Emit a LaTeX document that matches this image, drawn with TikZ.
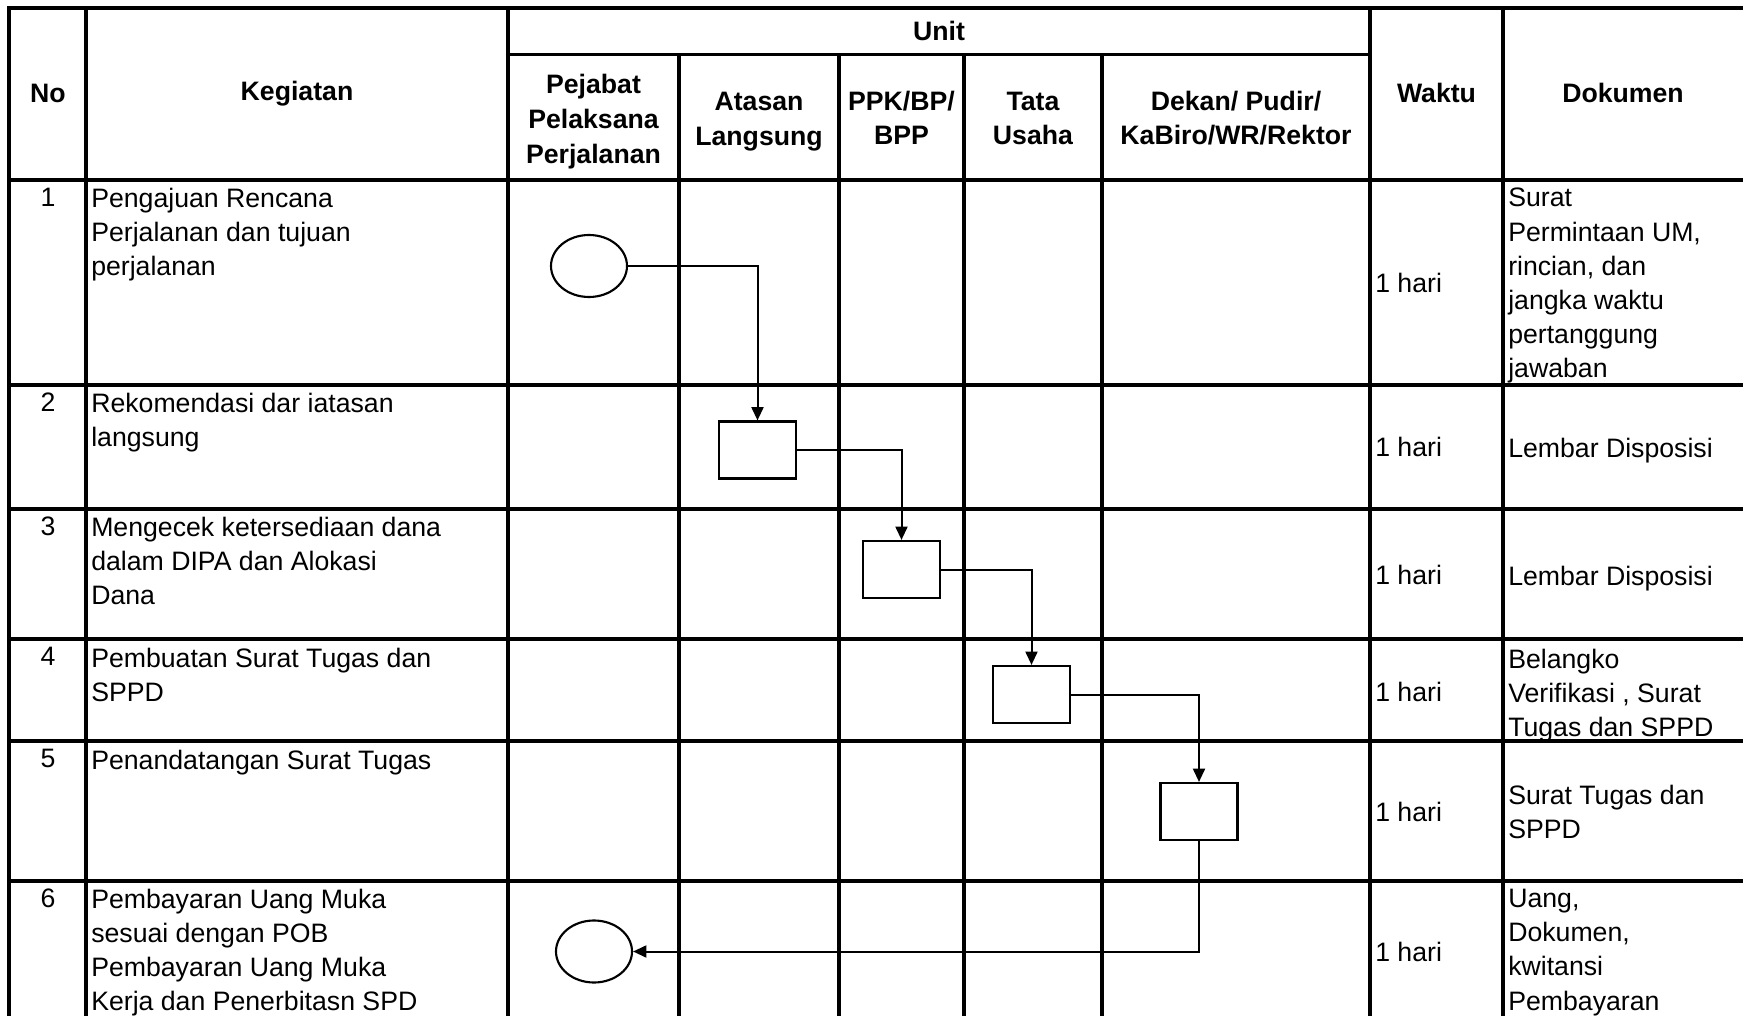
\documentclass[tikz,border=0pt]{standalone}
\usepackage{fontspec}
\setmainfont{Liberation Sans}
\usetikzlibrary{arrows.meta,shapes.geometric}
\begin{document}
\begin{tikzpicture}[x=0.75pt,y=-0.75pt,
  grid/.style={line width=2.4pt,line cap=rect},
  body/.style={font=\fontsize{20}{25.6}\selectfont,inner sep=0pt,align=left},
  head/.style={font=\bfseries\fontsize{20}{26}\selectfont,inner sep=0pt,align=center},
  num/.style={font=\fontsize{20}{25.6}\selectfont,inner sep=0pt,anchor=north},
  term/.style={draw,ellipse,line width=1.6pt,minimum width=57pt,minimum height=46.5pt,inner sep=0pt},
  proc/.style={draw,rectangle,line width=1.6pt,minimum width=57.75pt,minimum height=42.75pt,inner sep=0pt},
  flow/.style={line width=1.5pt,-{Triangle[length=10pt,width=9pt]}}]
\useasboundingbox (0,0) rectangle (1743,1016);
\clip (0,0) rectangle (1743,1016);
\fill[white] (0,0) rectangle (1743,1016);
% table grid
\draw[grid] (9,8) -- (1760,8);
\draw[grid] (508,54.5) -- (1370,54.5);
\foreach \yy in {180,385,509,639,741,881} \draw[grid] (9,\yy) -- (1760,\yy);
\foreach \xx in {9,86,508,1370,1503} \draw[grid] (\xx,8) -- (\xx,1030);
\foreach \xx in {679,839,964,1102} \draw[grid] (\xx,54.5) -- (\xx,1030);
% header
\node[head] (hno) at (48,93) {No};
\node[head] (hkeg) at (297,94) {Kegiatan};
\node[head] (hunit) at (939,31) {Unit};
\node[head] (hpej) at (593.5,121.5) {Pejabat\\Pelaksana\\Perjalanan};
\node[head] (hata) at (759,121.5) {Atasan\\Langsung};
\node[head] (hppk) at (901.5,118) {PPK/BP/\\BPP};
\node[head] (htu) at (1033,118.5) {Tata\\Usaha};
\node[head] (hdek) at (1236,118) {Dekan/ Pudir/\\KaBiro/WR/Rektor};
\node[head] (hwak) at (1436.5,93) {Waktu};
\node[head] (hdok) at (1623,93) {Dokumen};
% row numbers
\node[num] (n1) at (48,188) {1};
\node[num] (n2) at (48,393) {2};
\node[num] (n3) at (48,517) {3};
\node[num] (n4) at (48,647) {4};
\node[num] (n5) at (48,749) {5};
\node[num] (n6) at (48,889) {6};
% kegiatan
\node[body,anchor=north west] (k1) at (91,188) {Pengajuan Rencana\\Perjalanan dan tujuan\\perjalanan};
\node[body,anchor=north west] (k2) at (91,393) {Rekomendasi dar iatasan\\langsung};
\node[body,anchor=north west] (k3) at (91,517) {Mengecek ketersediaan dana\\dalam DIPA dan Alokasi\\Dana};
\node[body,anchor=north west] (k4) at (91,648) {Pembuatan Surat Tugas dan\\SPPD};
\node[body,anchor=north west] (k5) at (91,750) {Penandatangan Surat Tugas};
\node[body,anchor=north west] (k6) at (91,889) {Pembayaran Uang Muka\\sesuai dengan POB\\Pembayaran Uang Muka\\Kerja dan Penerbitasn SPD};
% waktu
\node[body,anchor=west] (w1) at (1375,282.5) {1 hari};
\node[body,anchor=west] (w2) at (1375,447) {1 hari};
\node[body,anchor=west] (w3) at (1375,575) {1 hari};
\node[body,anchor=west] (w4) at (1375,692) {1 hari};
\node[body,anchor=west] (w5) at (1375,812) {1 hari};
\node[body,anchor=west] (w6) at (1375,951.5) {1 hari};
% dokumen
\node[body,anchor=north west] (d1) at (1508,188) {Surat\\Permintaan UM,\\rincian, dan\\jangka waktu\\pertanggung\\jawaban};
\node[body,anchor=west] (d2) at (1508,450.5) {Lembar Disposisi};
\node[body,anchor=west] (d3) at (1508,578.5) {Lembar Disposisi};
\node[body,anchor=west] (d4) at (1508,695.5) {Belangko\\Verifikasi , Surat\\Tugas dan SPPD};
\node[body,anchor=west] (d5) at (1508,812) {Surat Tugas dan\\SPPD};
\node[body,anchor=north west] (d6) at (1508,889) {Uang,\\Dokumen,\\kwitansi\\Pembayaran};
% flow shapes
\node[term] (e1) at (589,266) {};
\node[proc] (r1) at (757.5,450) {};
\node[proc] (r2) at (901.5,569.5) {};
\node[proc] (r3) at (1031.5,694.5) {};
\node[proc] (r4) at (1199,811.5) {};
\node[term] (e2) at (594,951.5) {};
% connectors
\draw[flow] (e1.east) -| (r1.north);
\draw[flow] (r1.east) -| (r2.north);
\draw[flow] (r2.east) -| (r3.north);
\draw[flow] (r3.east) -| (r4.north);
\draw[flow] (r4.south) |- (e2.east);
\end{tikzpicture}
\end{document}
